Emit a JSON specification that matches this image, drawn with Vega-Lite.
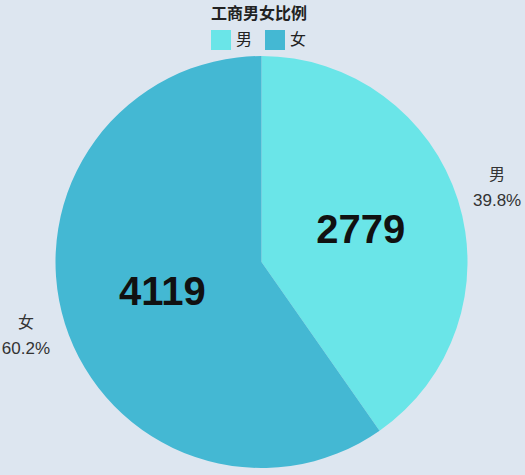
{
  "$schema": "https://vega.github.io/schema/vega-lite/v6.json",
  "autosize": "none",
  "width": 523,
  "height": 412,
  "padding": {"top": 56, "left": 0, "right": 2, "bottom": 7},
  "background": "#dde6f0",
  "config": {"view": {"stroke": null}},
  "data": {
    "values": [
      {"gender": "男", "count": 2779, "pct": "39.8%"},
      {"gender": "女", "count": 4119, "pct": "60.2%"}
    ]
  },
  "encoding": {
    "theta": {"field": "count", "type": "quantitative", "stack": true},
    "order": {"field": "count", "sort": "ascending"},
    "color": {
      "field": "gender",
      "type": "nominal",
      "sort": ["男", "女"],
      "scale": {"domain": ["男", "女"], "range": ["#6ae5e8", "#44b8d3"]},
      "legend": {
        "title": "工商男女比例",
        "orient": "none",
        "direction": "horizontal",
        "legendX": 211,
        "legendY": -50,
        "padding": 0,
        "titleAnchor": "middle",
        "titleFont": "Noto Sans CJK SC",
        "titleFontSize": 16,
        "titleFontWeight": "bold",
        "titleColor": "#222222",
        "titlePadding": 8,
        "symbolType": "square",
        "symbolSize": 400,
        "symbolStrokeWidth": 0,
        "symbolOpacity": 1,
        "labelFont": "Noto Sans CJK SC",
        "labelFontSize": 16,
        "labelColor": "#222222",
        "labelOffset": 5,
        "columnPadding": 12
      }
    }
  },
  "layer": [
    {"mark": {"type": "arc", "radius": 206}},
    {
      "mark": {"type": "text", "radius": 104, "font": "Liberation Sans", "fontSize": 40, "fontWeight": "bold", "color": "#111111"},
      "encoding": {"text": {"field": "count", "type": "quantitative"}, "color": {"value": "#111111"}}
    },
    {
      "mark": {"type": "text", "radius": 247, "dy": -13, "font": "Noto Sans CJK SC", "fontSize": 16, "color": "#333333"},
      "encoding": {"text": {"field": "gender"}, "color": {"value": "#333333"}}
    },
    {
      "mark": {"type": "text", "radius": 247, "dy": 13, "font": "Liberation Sans", "fontSize": 17, "color": "#333333"},
      "encoding": {"text": {"field": "pct"}, "color": {"value": "#333333"}}
    }
  ]
}
